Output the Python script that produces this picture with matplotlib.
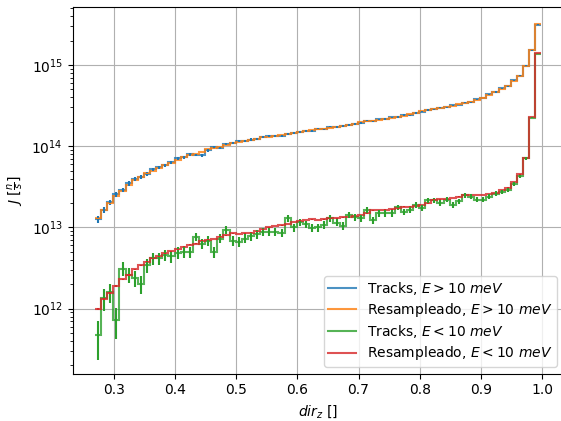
import numpy as np
import matplotlib
matplotlib.use("Agg")
import matplotlib.pyplot as plt

# bin edges in dir_z (73 bins of width 0.01)
edges = np.linspace(0.269, 0.999, 74)
centers = 0.5 * (edges[1:] + edges[:-1])

# current per bin, E > 10 meV
tracks_hi = [1.26e13, 1.66e13, 2.05e13, 2.55e13, 2.88e13, 3.48e13, 3.92e13, 4.2e13, 4.55e13, 5.2e13,
             5.5e13, 5.8e13, 6.35e13, 7.1e13, 7.35e13, 7.95e13, 7.8e13, 7.7e13, 8.9e13, 9.7e13,
             9.5e13, 1.06e14, 1.1e14, 1.15e14, 1.16e14, 1.21e14, 1.23e14, 1.31e14, 1.33e14, 1.35e14,
             1.34e14, 1.41e14, 1.47e14, 1.49e14, 1.56e14, 1.56e14, 1.63e14, 1.64e14, 1.72e14, 1.71e14,
             1.79e14, 1.81e14, 1.89e14, 1.95e14, 2.04e14, 2.05e14, 2.14e14, 2.16e14, 2.27e14, 2.29e14,
             2.41e14, 2.44e14, 2.58e14, 2.67e14, 2.81e14, 2.84e14, 2.99e14, 3.02e14, 3.19e14, 3.24e14,
             3.44e14, 3.52e14, 3.79e14, 3.95e14, 4.35e14, 4.66e14, 5.15e14, 5.45e14, 6.45e14, 7.35e14,
             9.85e14, 1.52e15, 3.15e15]
resamp_hi = [1.29e13, 1.64e13, 1.98e13, 2.44e13, 2.83e13, 3.33e13, 3.83e13, 4.2e13, 4.63e13, 4.99e13,
             5.43e13, 5.86e13, 6.27e13, 6.76e13, 7.43e13, 7.8e13, 8.0e13, 8.56e13, 9.16e13, 9.4e13,
             9.86e13, 1.03e14, 1.09e14, 1.14e14, 1.17e14, 1.19e14, 1.24e14, 1.29e14, 1.31e14, 1.33e14,
             1.36e14, 1.40e14, 1.45e14, 1.50e14, 1.54e14, 1.57e14, 1.61e14, 1.65e14, 1.70e14, 1.73e14,
             1.77e14, 1.82e14, 1.87e14, 1.97e14, 2.02e14, 2.07e14, 2.12e14, 2.18e14, 2.24e14, 2.31e14,
             2.38e14, 2.46e14, 2.55e14, 2.70e14, 2.78e14, 2.86e14, 2.95e14, 3.05e14, 3.15e14, 3.27e14,
             3.40e14, 3.55e14, 3.75e14, 3.98e14, 4.3e14, 4.7e14, 5.1e14, 5.5e14, 6.4e14, 7.4e14,
             9.8e14, 1.53e15, 3.16e15]

# current per bin, E < 10 meV
tracks_lo = [4.7e11, 1.34e12, 1.6e12, 7.2e11, 3.1e12, 2.6e12, 2.36e12, 2.0e12, 3.4e12, 4.2e12,
             4.2e12, 4.6e12, 4.4e12, 4.9e12, 5.0e12, 5.0e12, 7.7e12, 6.3e12, 6.9e12, 5.0e12,
             7.3e12, 9.3e12, 6.9e12, 6.7e12, 7.3e12, 7.8e12, 8.3e12, 8.9e12, 8.9e12, 8.9e12,
             8.6e12, 1.29e13, 1.0e13, 1.17e13, 1.1e13, 9.8e12, 1.0e13, 1.08e13, 1.29e13, 1.15e13,
             1.05e13, 1.42e13, 1.33e13, 1.29e13, 1.64e13, 1.23e13, 1.49e13, 1.49e13, 1.49e13, 1.77e13,
             1.55e13, 1.66e13, 1.89e13, 1.72e13, 2.17e13, 2.17e13, 2.0e13, 2.2e13, 1.9e13, 2.1e13,
             2.5e13, 2.4e13, 2.2e13, 2.2e13, 2.4e13, 2.6e13, 2.75e13, 2.9e13, 3.4e13, 4.3e13,
             7.1e13, 2.25e14, 1.37e15]
resamp_lo = [1.0e12, 1.31e12, 1.57e12, 1.9e12, 2.3e12, 2.6e12, 3.05e12, 3.4e12, 3.8e12, 4.2e12,
             4.4e12, 4.8e12, 5.1e12, 5.4e12, 5.8e12, 6.1e12, 6.3e12, 6.9e12, 7.1e12, 7.2e12,
             7.7e12, 8.0e12, 8.5e12, 8.3e12, 8.5e12, 8.6e12, 9.0e12, 9.5e12, 1.0e13, 1.04e13,
             1.06e13, 1.1e13, 1.17e13, 1.21e13, 1.23e13, 1.26e13, 1.24e13, 1.26e13, 1.29e13, 1.30e13,
             1.33e13, 1.35e13, 1.38e13, 1.42e13, 1.49e13, 1.62e13, 1.64e13, 1.66e13, 1.67e13, 1.72e13,
             1.80e13, 1.80e13, 1.83e13, 1.89e13, 1.98e13, 2.2e13, 2.22e13, 2.25e13, 2.3e13, 2.4e13,
             2.5e13, 2.5e13, 2.5e13, 2.5e13, 2.57e13, 2.67e13, 2.9e13, 3.1e13, 3.6e13, 4.5e13,
             7.2e13, 2.3e14, 1.39e15]

# statistical weight of one particle in each list (Poisson errors)
track_weight = 1.2e11
resamp_weight = 1.0e9

series = [
    (tracks_hi, track_weight, "tab:blue", r"Tracks, $E>10\ meV$"),
    (resamp_hi, resamp_weight, "tab:orange", r"Resampleado, $E>10\ meV$"),
    (tracks_lo, track_weight, "tab:green", r"Tracks, $E<10\ meV$"),
    (resamp_lo, resamp_weight, "tab:red", r"Resampleado, $E<10\ meV$"),
]

fig = plt.figure(figsize=(5.61, 4.21), dpi=100)
# the right spine sits just past the canvas edge
ax = fig.add_axes([0.1296, 0.1128, 1.0048 - 0.1296, 0.9827 - 0.1128])

for vals, w, color, label in series:
    vals = np.asarray(vals)
    err = np.sqrt(vals * w)
    ax.stairs(vals, edges, baseline=None, color=color, lw=1.5, alpha=0.8, label=label)
    ax.errorbar(centers, vals, yerr=err, fmt="none", ecolor=color, elinewidth=1.5)

ax.set_yscale("log")
ax.set_xlim(0.2325, 1.0355)
ax.set_ylim(1.59e11, 5.14e15)
ax.grid(True)
ax.set_axisbelow(True)
ax.set_xlabel(r"$dir_z$ []")
ax.set_ylabel(r"$J\ [\frac{n}{s}]$")
ax.legend(loc="lower right", labelspacing=0.3, borderpad=0.3)

fig.savefig("out.png", dpi=100)
